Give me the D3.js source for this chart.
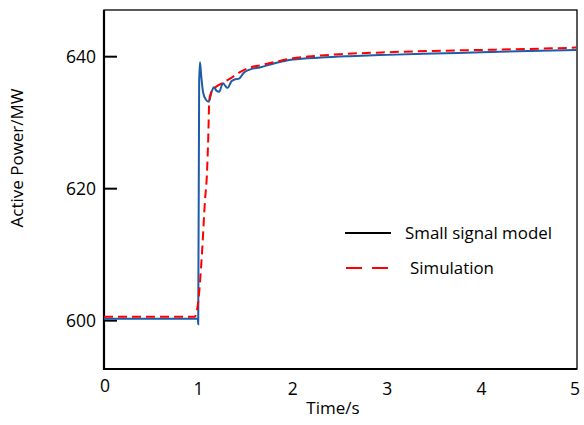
<!DOCTYPE html>
<html>
<head>
<meta charset="utf-8">
<script src="https://cdn.jsdelivr.net/npm/d3@7/dist/d3.min.js"></script>
<style>
  html, body { margin: 0; padding: 0; background: #fff; }
  text { font-family: "Open Sans", Lato, sans-serif; fill: #000; }
</style>
</head>
<body>
<svg id="chart" width="584" height="425"></svg>
<script>
// ---- data ----
const modelTime = [0, 0.995, 0.998, 1.008, 1.017, 1.03, 1.05, 1.08, 1.11, 1.14, 1.165, 1.19, 1.22, 1.26, 1.29, 1.31, 1.35, 1.39, 1.43, 1.48, 1.55, 1.65, 1.8, 2.0, 2.3, 2.6, 3.0, 3.5, 4.0, 4.5, 5.0];
const modelPower = [600.2, 600.2, 599.4, 636.0, 639.1, 637.0, 634.5, 633.4, 633.1, 634.6, 635.3, 634.8, 634.6, 635.9, 635.4, 635.2, 636.2, 636.5, 636.6, 637.5, 638.0, 638.3, 638.9, 639.5, 639.8, 640.0, 640.2, 640.4, 640.6, 640.8, 640.95];

const simTime = [0, 0.96, 1.0, 1.04, 1.07, 1.09, 1.105, 1.115, 1.13, 1.16, 1.2, 1.25, 1.335, 1.44, 1.55, 1.65, 1.8, 2.0, 2.2, 2.5, 3.0, 3.5, 4.0, 4.5, 5.0];
const simPower = [600.5, 600.5, 603.0, 610.6, 618.2, 622.0, 628.0, 633.3, 634.3, 635.0, 635.5, 635.9, 636.6, 637.6, 638.3, 638.6, 639.1, 639.7, 640.0, 640.3, 640.6, 640.8, 640.95, 641.1, 641.3];

const xTicks = [0, 1, 2, 3, 4, 5];
const yTicks = [600, 620, 640];
const seriesNames = ["Small signal model", "Simulation"];

// ---- layout ----
const svg = d3.select("#chart");
const pL = 104, pR = 577, pT = 10, pB = 369;
const x = d3.scaleLinear().domain([0, 5]).range([pL, 576]);
const y = d3.scaleLinear().domain([592.6, 647]).range([pB, pT]);

// frame
svg.append("rect").attr("x", pL).attr("y", pT)
  .attr("width", pR - pL).attr("height", pB - pT)
  .attr("fill", "none").attr("stroke", "#000").attr("stroke-width", 1.3);
svg.append("line").attr("x1", pL).attr("x2", pL).attr("y1", pT).attr("y2", pB + 1)
  .attr("stroke", "#000").attr("stroke-width", 2.2);
svg.append("line").attr("x1", pL - 1).attr("x2", pR).attr("y1", pB).attr("y2", pB)
  .attr("stroke", "#000").attr("stroke-width", 2.2);

// y axis (inward ticks)
const yAxis = d3.axisRight(y).tickValues(yTicks).tickSize(13).tickFormat("");
const gy = svg.append("g").attr("transform", `translate(${pL},0)`).call(yAxis);
gy.select(".domain").remove();
gy.selectAll(".tick line").attr("stroke", "#000").attr("stroke-width", 2);
svg.append("g").selectAll("text").data(yTicks).join("text")
  .attr("x", 96).attr("y", d => y(d) + 6.5)
  .attr("text-anchor", "end").attr("font-size", 17.5).text(d => d);

// x axis labels (no tick marks)
const xAxis = d3.axisBottom(x).tickValues(xTicks).tickSize(0).tickFormat("");
const gx = svg.append("g").attr("transform", `translate(0,${pB})`).call(xAxis);
gx.select(".domain").remove();
svg.append("g").selectAll("text").data(xTicks).join("text")
  .attr("x", d => x(d) + (d === 0 ? 1 : d === 5 ? -1 : 0))
  .attr("y", d => d === 0 ? 392 : 395)
  .attr("text-anchor", "middle").attr("font-size", 17.5).text(d => d);

// axis titles
svg.append("text").attr("x", 333).attr("y", 414).attr("text-anchor", "middle")
  .attr("font-size", 17).text("Time/s");
svg.append("text").attr("transform", "translate(23,158) rotate(-90)")
  .attr("text-anchor", "middle").attr("font-size", 17).text("Active Power/MW");

// lines
const line = d3.line().x(d => x(d[0])).y(d => y(d[1])).curve(d3.curveMonotoneX);
const modelData = modelTime.map((t, i) => [t, modelPower[i]]);
const simData = simTime.map((t, i) => [t, simPower[i]]);

svg.append("path").datum(modelData).attr("d", line)
  .attr("fill", "none").attr("stroke", "#1c5ca8").attr("stroke-width", 2);
svg.append("path").datum(simData).attr("d", line)
  .attr("fill", "none").attr("stroke", "#ff0000").attr("stroke-width", 2)
  .attr("stroke-dasharray", "9,5");

// legend
svg.append("line").attr("x1", 345).attr("x2", 391).attr("y1", 233).attr("y2", 233)
  .attr("stroke", "#000").attr("stroke-width", 2);
svg.append("line").attr("x1", 346).attr("x2", 390).attr("y1", 268).attr("y2", 268)
  .attr("stroke", "#ff0000").attr("stroke-width", 2).attr("stroke-dasharray", "16,10");
svg.append("text").attr("x", 405).attr("y", 239).attr("font-size", 16.9).text(seriesNames[0]);
svg.append("text").attr("x", 410).attr("y", 274).attr("font-size", 16.9).text(seriesNames[1]);
</script>
</body>
</html>
